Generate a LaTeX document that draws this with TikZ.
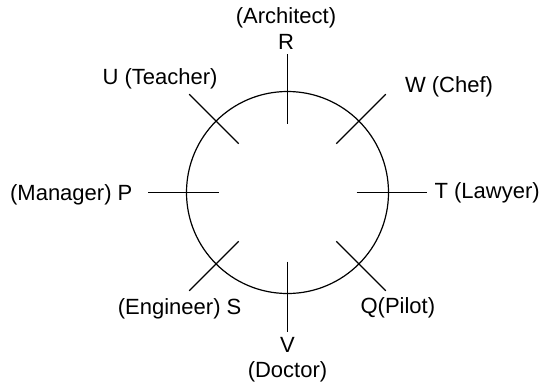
\documentclass[tikz,border=0pt]{standalone}
\usepackage{fontspec}
\setmainfont{Liberation Sans}
\usetikzlibrary{calc}

\begin{document}
\begin{tikzpicture}[x=0.5pt,y=0.5pt,line width=0.6pt,
  lbl/.style={inner sep=0pt,font=\fontsize{11}{13}\selectfont}]
\useasboundingbox (-287.5,-194.5) rectangle (252.5,192.5);
                        \node[draw,circle,minimum size=101pt,inner sep=0pt] (O) at (0,0) {};
                        \coordinate (Ri) at (0,69);       \coordinate (Ro) at (0,139);
                        \coordinate (Wi) at (48.8,48.8);   \coordinate (Wo) at (98.3,98.3);
                        \coordinate (Ti) at (69,0);       \coordinate (To) at (139,0);
                        \coordinate (Qi) at (48.8,-48.8);  \coordinate (Qo) at (98.3,-98.3);
                        \coordinate (Vi) at (0,-69);      \coordinate (Vo) at (0,-139);
                        \coordinate (Si) at (-48.8,-48.8); \coordinate (So) at (-98.3,-98.3);
                        \coordinate (Pi) at (-69,0);      \coordinate (Po) at (-139,0);
                        \coordinate (Ui) at (-48.8,48.8);  \coordinate (Uo) at (-98.3,98.3);
                        \path[draw]
                        (Ri) edge (Ro)
                        (Wi) edge (Wo)
                        (Ti) edge (To)
                        (Qi) edge (Qo)
                        (Vi) edge (Vo)
                        (Si) edge (So)
                        (Pi) edge (Po)
                        (Ui) edge (Uo);
                        \node[lbl] (RR) at (-1.5,150.5) {R};
                        \node[lbl] (RRj) at (-1.5,174.5) {(Architect)};
                        \node[lbl] (WW) at (161.5,105.5) {W (Chef)};
                        \node[lbl,anchor=west] (TT) at (146.5,-0.5) {T (Lawyer)};
                        \node[lbl,anchor=west] (QQ) at (72.5,-115.5) {Q(Pilot)};
                        \node[lbl] (VV) at (0,-152.5) {V};
                        \node[lbl] (VVj) at (0,-179.5) {(Doctor)};
                        \node[lbl,anchor=east] (SS) at (-45.5,-116) {(Engineer) S};
                        \node[lbl,anchor=east] (PP) at (-154.5,-2.5) {(Manager) P};
                        \node[lbl] (UU) at (-127.5,113.5) {U (Teacher)};
                        \end{tikzpicture}
\end{document}
